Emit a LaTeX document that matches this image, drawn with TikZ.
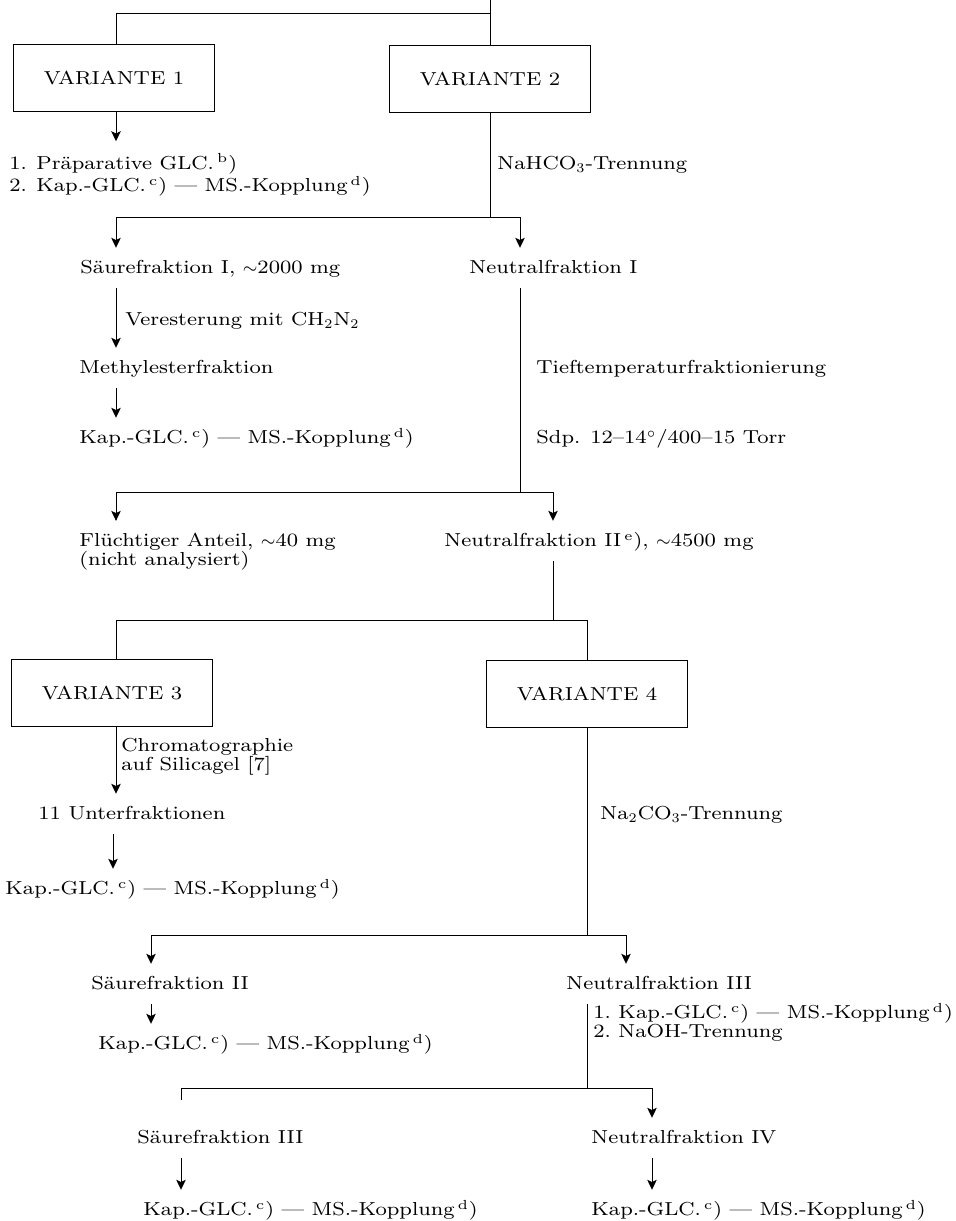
\documentclass[tikz,border=0pt]{standalone}
\usepackage{fontspec}
\setmainfont{Latin Modern Roman}[FakeStretch=1.13]
\usepackage{tikz}
\usetikzlibrary{arrows.meta,calc}

\newcommand{\kapms}{Kap.-GLC.\,\textsuperscript{c}) --- MS.-Kopplung\,\textsuperscript{d})}

\begin{document}
\begin{tikzpicture}[
    x=0.452pt,
    y=-0.452pt,
    every node/.style={
        font=\fontsize{8.5}{8.6}\selectfont
    },
    variante/.style={
        draw,
        line width=0.45pt,
        minimum width=91pt,
        minimum height=30pt,
        inner sep=0pt
    },
    fraction/.style={
        anchor=west,
        inner sep=0pt,
        text height=6pt,
        text depth=1.8pt
    },
    block/.style={
        anchor=west,
        inner sep=0pt,
        align=left
    },
    connector/.style={
        draw,
        line width=0.45pt
    },
    flow/.style={
        connector,
        -{Stealth[length=4.5pt,width=4.3pt,inset=1pt]}
    },
    fromtext/.style={shorten <=4.5pt},
    totext/.style={shorten >=5.5pt}
]

\useasboundingbox (0,0) rectangle (956,1221);

% ============================================================
% Columns and junctions
% ============================================================

\coordinate (spineL)  at (116,0);
\coordinate (spineN1) at (520,0);
\coordinate (spineN2) at (553,0);
\coordinate (spineV4) at (587,0);
\coordinate (spineUF) at (113,0);
\coordinate (spineS2) at (151,0);
\coordinate (spineN3) at (626,0);
\coordinate (spineS3) at (181,0);
\coordinate (spineN4) at (652,0);

\coordinate (top)    at (490,0);
\coordinate (split1) at (490,13);
\coordinate (split2) at (490,217);
\coordinate (split3) at (520,492);
\coordinate (split4) at (553,620);
\coordinate (split5) at (587,935);
\coordinate (split6) at (587,1088);
\coordinate (tick)   at (181,1100);

% ============================================================
% Variante 1 and 2
% ============================================================

\node[variante] (v1) at (114,78) {VARIANTE 1};
\node[variante] (v2) at (490,79) {VARIANTE 2};

\node[block] (prep) at (9,175)
{1.\enspace Präparative GLC.\,\textsuperscript{b})\\
2.\enspace \kapms};

\node[fraction] (nahco) at (497,165) {NaHCO$_3$-Trennung};

\node[fraction] (s1) at (80,269) {Säurefraktion I, $\sim$2000 mg};
\node[fraction] (n1) at (469,269) {Neutralfraktion I};

\node[fraction] (veres) at (125,321) {Veresterung mit CH$_2$N$_2$};
\node[fraction] (me) at (79,369) {Methylesterfraktion};
\node[fraction] (k1) at (79,439) {\kapms};

\node[fraction] (tief) at (536,369) {Tieftemperaturfraktionierung};
\node[fraction] (sdp) at (536,439) {Sdp. 12--14$^\circ$/400--15 Torr};

\node[block] (fl) at (79,552)
{Flüchtiger Anteil, $\sim$40 mg\\
(nicht analysiert)};

\node[fraction] (n2) at (444,542)
{Neutralfraktion II\,\textsuperscript{e}), $\sim$4500 mg};

% ============================================================
% Variante 3 and 4
% ============================================================

\node[variante] (v3) at (112,693) {VARIANTE 3};
\node[variante] (v4) at (587,694) {VARIANTE 4};

\node[block] (chrom) at (121,757)
{Chromatographie\\
auf Silicagel [7]};

\node[fraction] (uf) at (38,815) {11 Unterfraktionen};
\node[fraction] (k2) at (5,890) {\kapms};

\node[fraction] (na2) at (600,815) {Na$_2$CO$_3$-Trennung};

\node[fraction] (s2) at (91,985) {Säurefraktion II};
\node[fraction] (n3) at (566,985) {Neutralfraktion III};
\node[fraction] (k3) at (98,1045) {\kapms};

\node[block] (steps) at (593,1022)
{1.\ \kapms\\
2.\ NaOH-Trennung};

\node[fraction] (s3) at (137,1139) {Säurefraktion III};
\node[fraction] (n4) at (591,1139) {Neutralfraktion IV};
\node[fraction] (k4) at (143,1211) {\kapms};
\node[fraction] (k5) at (591,1211) {\kapms};

% ============================================================
% Connectors, upper half
% ============================================================

\draw[connector] (top) -- (v2.north);
\draw[connector] (split1) -| (spineL |- v1.north);

\draw[flow, totext] (spineL |- v1.south) -- (spineL |- prep.north);

\draw[connector] (v2.south) -- (split2);
\draw[flow, totext] (split2) -| (spineL |- s1.north);
\draw[flow, totext] (split2) -| (spineN1 |- n1.north);

\draw[flow, fromtext, totext] (spineL |- s1.south) -- (spineL |- me.north);
\draw[flow, fromtext, totext] (spineL |- me.south) -- (spineL |- k1.north);

\draw[connector, fromtext] (spineN1 |- n1.south) -- (split3);
\draw[flow, totext] (split3) -| (spineL |- fl.north);
\draw[flow, totext] (split3) -| (spineN2 |- n2.north);

\draw[connector, fromtext] (spineN2 |- n2.south) -- (split4);
\draw[connector] (split4) -| (spineL |- v3.north);
\draw[connector] (split4) -| (v4.north);

% ============================================================
% Connectors, lower half
% ============================================================

\draw[flow, totext] (spineL |- v3.south) -- (spineL |- uf.north);
\draw[flow, fromtext, totext] (spineUF |- uf.south) -- (spineUF |- k2.north);

\draw[connector] (v4.south) -- (split5);
\draw[flow, totext] (split5) -| (spineS2 |- s2.north);
\draw[flow, totext] (split5) -| (spineN3 |- n3.north);

\draw[flow, fromtext, totext] (spineS2 |- s2.south) -- (spineS2 |- k3.north);

\draw[connector, fromtext] (spineV4 |- n3.south) -- (split6);
\draw[connector] (split6) -| (tick);
\draw[flow, totext] (split6) -| (spineN4 |- n4.north);

\draw[flow, fromtext, totext] (spineS3 |- s3.south) -- (spineS3 |- k4.north);
\draw[flow, fromtext, totext] (spineN4 |- n4.south) -- (spineN4 |- k5.north);

\end{tikzpicture}
\end{document}
